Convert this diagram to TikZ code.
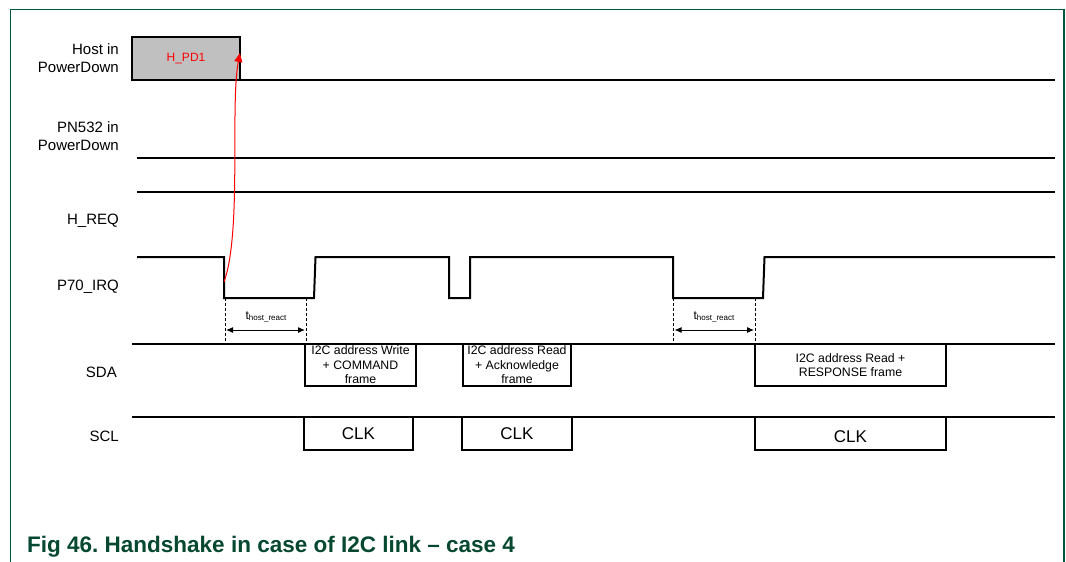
\documentclass[tikz,border=0pt]{standalone}
\usepackage{fontspec}
\setmainfont{Liberation Sans}
\usetikzlibrary{arrows.meta}
\definecolor{framegreen}{RGB}{0,88,62}
\definecolor{capgreen}{RGB}{6,72,48}
\definecolor{pdgray}{RGB}{192,192,192}
\frenchspacing
\begin{document}
\begin{tikzpicture}[x=1pt,y=-1pt,
  sig/.style={line width=2pt},
  lbl/.style={anchor=east, align=right, inner sep=0pt, font=\fontsize{15}{18}\selectfont},
  framebox/.style={draw, line width=1.8pt, anchor=north west, inner sep=0pt, outer sep=0pt, align=center, font=\fontsize{12.3}{14.5}\selectfont},
  clkbox/.style={draw, line width=1.8pt, anchor=north west, inner sep=0pt, outer sep=0pt, font=\fontsize{17}{20}\selectfont},
  dashv/.style={line width=1pt, dash pattern=on 3pt off 2pt},
  dimarrow/.style={line width=1pt, {Latex[length=7pt,width=6pt]}-{Latex[length=7pt,width=6pt]}},
  tlabel/.style={inner sep=0pt}
]
\useasboundingbox (0,0) rectangle (1066,562);
% frame
\draw[framegreen, line width=1.5pt] (10.7,562) -- (10.7,9.3) -- (1064,9.3) -- (1064,562);

% labels
\node[lbl] (lhost) at (119,58) {Host in\\PowerDown};
\node[lbl] (lpn) at (119,136) {PN532 in\\PowerDown};
\node[lbl] (lhreq) at (119,221) {H\_REQ};
\node[lbl] (lirq) at (119,287) {P70\_IRQ};
\node[lbl] (lsda) at (117,372) {SDA};
\node[lbl] (lscl) at (119,436) {SCL};

% Host line
\node[draw, fill=pdgray, line width=2pt, minimum width=108pt, minimum height=43pt, inner sep=0pt, outer sep=0pt,
      text=red, font=\fontsize{12}{14}\selectfont] (hpd) at (186,58.5) {H\_PD1};
\coordinate (hostend) at (1055,80);
\draw[sig] (hpd.south east) -- (hostend);

% PN532 line
\coordinate (pnstart) at (137,157.5);
\coordinate (pnend) at (1055,157.5);
\draw[sig] (pnstart) -- (pnend);

% H_REQ line
\coordinate (hrstart) at (137,191.5);
\coordinate (hrend) at (1055,191.5);
\draw[sig] (hrstart) -- (hrend);

% P70_IRQ
\coordinate (f1) at (224,298);
\coordinate (r1) at (314,298);
\coordinate (f2) at (673,298);
\coordinate (r2) at (763,298);
\draw[sig] (137,257) -- (224,257) -- (f1) -- (r1) -- (315.5,257) -- (449,257) -- (449,298)
  -- (470,298) -- (470,257) -- (673,257) -- (f2) -- (r2) -- (764.5,257) -- (1055,257);

% SDA line and frames
\coordinate (sdastart) at (132,344);
\coordinate (sdaend) at (1055,344);
\draw[sig] (sdastart) -- (sdaend);
\node[framebox, minimum width=111pt, minimum height=42pt] (sda1) at (305,344) {I2C address Write\\+ COMMAND\\frame};
\node[framebox, minimum width=108pt, minimum height=42pt] (sda2) at (463,344) {I2C address Read\\+ Acknowledge\\frame};
\node[framebox, minimum width=191pt, minimum height=42pt] (sda3) at (755,344) {I2C address Read +\\RESPONSE frame};

% SCL line and clocks
\coordinate (sclstart) at (132,416.5);
\coordinate (sclend) at (1055,416.5);
\draw[sig] (sclstart) -- (sclend);
\node[clkbox, minimum width=109pt, minimum height=33.5pt] (clk1) at (304,416.5) {CLK};
\node[clkbox, minimum width=110pt, minimum height=33.5pt] (clk2) at (462,416.5) {CLK};
\node[clkbox, minimum width=191pt, minimum height=33.5pt] (clk3) at (755,416.5) {};
\node[inner sep=0pt, font=\fontsize{17}{20}\selectfont] (clk3t) at ([yshift=-3pt]clk3.center) {CLK};

% timing markers
\coordinate (d1t) at (225,298); \coordinate (d1b) at (225,344);
\coordinate (d2t) at (306,298); \coordinate (d2b) at (306,344);
\coordinate (d3t) at (673.5,298); \coordinate (d3b) at (673.5,344);
\coordinate (d4t) at (755,298); \coordinate (d4b) at (755,344);
\draw[dashv] (d1t) -- (d1b);
\draw[dashv] (d2t) -- (d2b);
\draw[dashv] (d3t) -- (d3b);
\draw[dashv] (d4t) -- (d4b);
\coordinate (a1l) at (226,330); \coordinate (a1r) at (305,330);
\coordinate (a2l) at (674.5,330); \coordinate (a2r) at (754,330);
\draw[dimarrow] (a1l) -- (a1r);
\draw[dimarrow] (a2l) -- (a2r);
\node[tlabel] (t1) at (266,317) {\fontsize{12}{14}\selectfont t\raisebox{-1.5pt}{\fontsize{8}{9}\selectfont host\_react}};
\node[tlabel] (t2) at (714,317) {\fontsize{12}{14}\selectfont t\raisebox{-1.5pt}{\fontsize{8}{9}\selectfont host\_react}};

% red wake-up arrow
\coordinate (irqfall) at (224,282);
\coordinate (pdtip) at (240,53);
\draw[red, line width=1pt, -{Triangle[length=9pt,width=8pt]}] (irqfall) .. controls (242,232) and (230,105) .. (pdtip);

% caption
\node[anchor=base west, inner sep=0pt, text=capgreen, font=\fontsize{22.5}{26}\selectfont\bfseries] (cap) at (27,552) {Fig 46. Handshake in case of I2C link – case 4};
\end{tikzpicture}
\end{document}
